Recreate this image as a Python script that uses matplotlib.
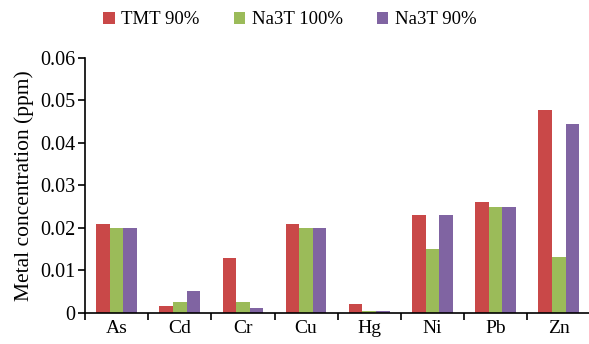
import numpy as np
import matplotlib.pyplot as plt
from matplotlib.ticker import FixedLocator, NullFormatter

plt.rcParams['font.family'] = ['Liberation Serif', 'DejaVu Serif']

# metal concentrations (ppm) per treatment
metals = ["As", "Cd", "Cr", "Cu", "Hg", "Ni", "Pb", "Zn"]
tmt_90 = [0.021, 0.0016, 0.013, 0.021, 0.0021, 0.023, 0.026, 0.0478]
na3t_100 = [0.020, 0.0026, 0.0026, 0.020, 0.0005, 0.015, 0.025, 0.0132]
na3t_90 = [0.020, 0.0051, 0.0011, 0.020, 0.0005, 0.023, 0.025, 0.0445]
series_names = ["TMT 90%", "Na3T 100%", "Na3T 90%"]
colors = ["#C94848", "#9BBB59", "#8064A2"]

fig = plt.figure(figsize=(5.89, 3.44), dpi=100)
ax = fig.add_axes([0.1443, 0.090, 0.858, 0.742])

x = np.arange(len(metals))
w = 0.215
for i, (vals, name, c) in enumerate(zip([tmt_90, na3t_100, na3t_90], series_names, colors)):
    ax.bar(x + (i - 1) * w, vals, width=w, color=c, label=name, linewidth=0)

ax.set_xlim(-0.5, len(metals) - 0.5)
ax.set_ylim(0, 0.06)
ax.set_yticks(np.arange(0, 0.061, 0.01))
ax.set_yticklabels(["0", "0.01", "0.02", "0.03", "0.04", "0.05", "0.06"])

# boundary ticks between groups, labels centred under each group
ax.xaxis.set_major_locator(FixedLocator(np.arange(len(metals) + 1) - 0.5))
ax.xaxis.set_major_formatter(NullFormatter())
ax.xaxis.set_minor_locator(FixedLocator(x))
ax.set_xticklabels(metals, minor=True)
ax.tick_params(axis='x', which='major', length=5, width=1.2, direction='out')
ax.tick_params(axis='x', which='minor', length=0, pad=5, labelsize=14)
ax.tick_params(axis='y', length=5, width=1.2, direction='out', labelsize=14.5, pad=2)

for s in ["top", "right"]:
    ax.spines[s].set_visible(False)
ax.spines["left"].set_linewidth(1.2)
ax.spines["bottom"].set_linewidth(1.2)

ax.set_ylabel("Metal concentration (ppm)", fontsize=15.5, labelpad=4)

fig.legend(loc='center', bbox_to_anchor=(0.492, 0.942), ncol=3, frameon=False,
           fontsize=13.5, handlelength=0.6, handleheight=0.6, columnspacing=1.8,
           handletextpad=0.37)

fig.savefig("out.png", dpi=100)
